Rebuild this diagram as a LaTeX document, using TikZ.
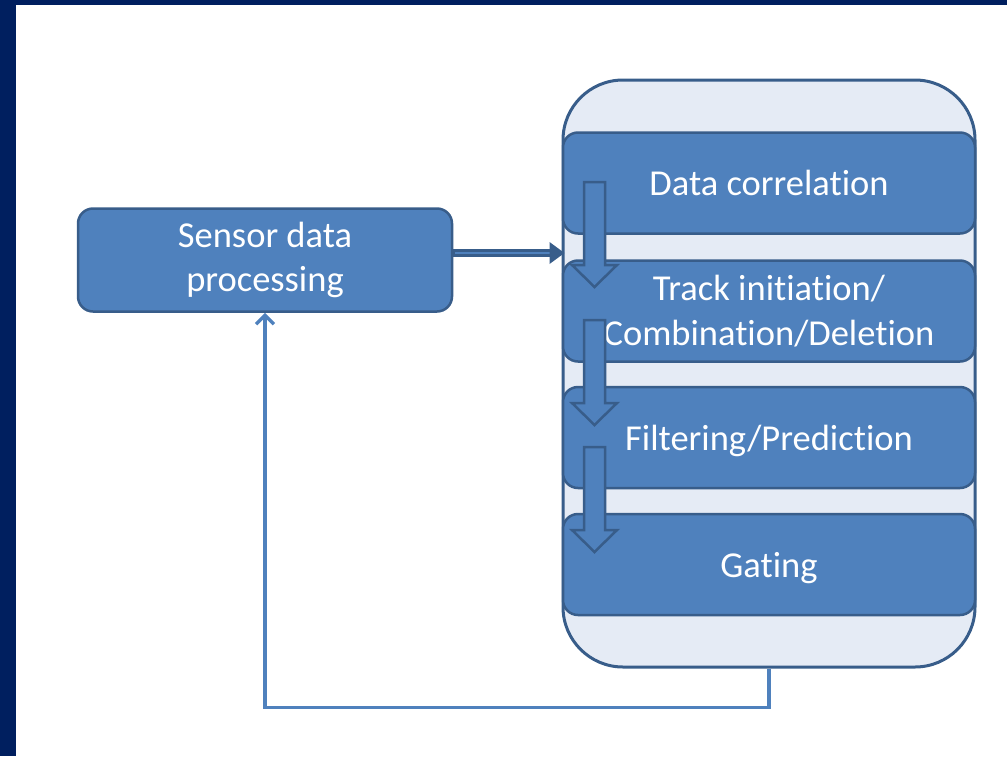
\documentclass[tikz,border=0pt]{standalone}
\usepackage{fontspec}
\setmainfont{Carlito}[Ligatures=NoCommon]
\usetikzlibrary{arrows.meta}
\definecolor{navy}{HTML}{001F5F}
\definecolor{boxfill}{HTML}{4F81BD}
\definecolor{boxline}{HTML}{385D8A}
\definecolor{panel}{HTML}{E5EBF5}
\begin{document}
\begin{tikzpicture}[x=1pt,y=-1pt,
  stage/.style={draw=boxline, fill=boxfill, line width=2.5pt, rounded corners=15pt,
    minimum width=412pt, minimum height=101pt, inner sep=0pt,
    text=white, align=center, font=\fontsize{36.5}{44.5}\selectfont},
  oneline/.style={text height=33pt, text depth=8pt},
  flowarrow/.style={draw=boxline, fill=boxfill, line width=2.5pt, line join=miter},
  feedback/.style={draw=boxfill, line width=3.5pt,
    -{Straight Barb[length=9pt,width=18pt,line width=3.5pt]}},
]
\useasboundingbox (0,0) rectangle (1007,756);
% slide frame
\fill[navy] (0,0) rectangle (16,756);
\fill[navy] (0,0) rectangle (1007,5);

% tracking loop panel
\node[draw=boxline, fill=panel, line width=3pt, rounded corners=60pt,
  minimum width=412pt, minimum height=587pt, inner sep=0pt] (panel) at (769,373.5) {};

% stages of the loop
\node[stage, oneline] (corr) at (769,183) {Data correlation};
\node[stage] (track) at (769,311) {Track initiation/\\Combination/Deletion};
\node[stage, oneline] (filt) at (769,437.5) {Filtering/Prediction};
\node[stage, oneline] (gate) at (769,564.5) {Gating};

% block arrows between stages
\newcommand{\stagearrow}[2]{%
  \path[flowarrow] (584,#1) -- (605,#1) -- (605,#2) -- (617,#2) -- (594.5,#2+22)
    -- (572,#2) -- (584,#2) -- cycle;}
\stagearrow{182}{265}
\stagearrow{320}{403}
\stagearrow{447}{530}

% sensor processing block
\node[stage, minimum width=374pt, minimum height=103pt] (sensor) at (265,260)
  {Sensor data\\processing};

% sensor output into the loop
\coordinate (out) at ([yshift=7pt]sensor.east);
\coordinate (in) at (out -| panel.west);
\draw[boxline, line width=8pt] (out) -- ([xshift=-10pt]in);
\draw[boxfill, line width=2.5pt] ([xshift=2pt]out) -- ([xshift=-10pt]in);
\fill[boxline] ([xshift=3pt]in) -- ([xshift=-12pt,yshift=11pt]in) -- ([xshift=-12pt,yshift=-11pt]in) -- cycle;

% feedback to sensor processing
\draw[feedback] (panel.south) -- ++(0,39) -| (sensor.south);
\end{tikzpicture}
\end{document}
